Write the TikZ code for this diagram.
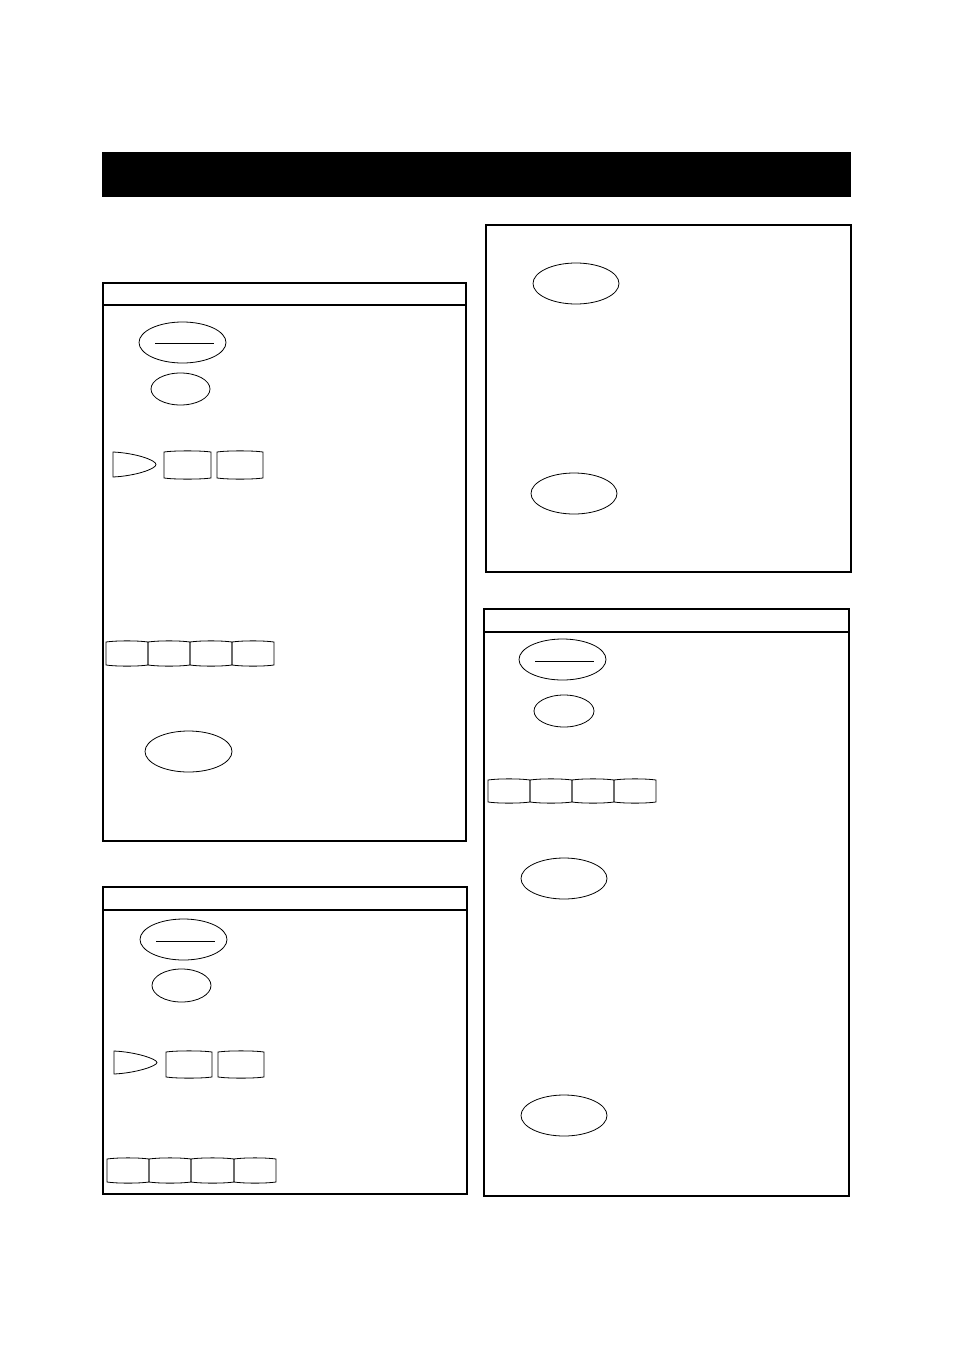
\documentclass[tikz,border=0pt]{standalone}
\begin{document}
\begin{tikzpicture}[x=1pt,y=-1pt,
  frame/.style={draw=black,line width=1.2pt},
  shp/.style={draw=black,line width=0.8pt},
  thick frame/.style={draw=black,line width=2pt}]
\useasboundingbox (0,0) rectangle (954,1351);
\newcommand\kbox[4]{\draw[shp] (#1,#2) .. controls ({#1+10},{#2-1.5}) and ({#3-10},{#2-1.5}) .. (#3,#2) -- (#3,#4) .. controls ({#3-10},{#4+1.5}) and ({#1+10},{#4+1.5}) .. (#1,#4) -- cycle;}
\newcommand\dshape[3]{\draw[shp] (#1,#2) .. controls ({#1+22},{#2+1}) and ({#1+43},{#2+8}) .. ({#1+43},{(#2+#3)/2}) .. controls ({#1+43},{#3-8}) and ({#1+22},{#3-1}) .. (#1,#3) -- cycle;}
% title bar
\fill[black] (102,152) rectangle (851,197);
% Panel A
\draw[frame] (103,283) rectangle (466,841);
\draw[thick frame] (103,283) -- (103,841);
\draw[frame] (103,305) -- (466,305);
\draw[shp] (182.5,342.5) ellipse [x radius=43.5, y radius=20.5];
\draw[shp] (155,343) -- (214,343);
\draw[shp] (180.5,389) ellipse [x radius=29.5, y radius=16];
\dshape{113}{452}{477}
\kbox{164}{452}{211}{478}
\kbox{217}{452}{263}{478}
\kbox{106}{642}{148}{665}
\kbox{148}{642}{190}{665}
\kbox{190}{642}{232}{665}
\kbox{232}{642}{274}{665}
\draw[shp] (188.5,751.5) ellipse [x radius=43.5, y radius=20.5];
% Panel B
\draw[frame] (103,887) rectangle (467,1194);
\draw[thick frame] (103,910) -- (467,910);
\draw[shp] (183.5,939.5) ellipse [x radius=43.5, y radius=20.5];
\draw[shp] (156,941) -- (215,941);
\draw[shp] (181.5,985.5) ellipse [x radius=29.5, y radius=16.5];
\dshape{114}{1051}{1074}
\kbox{166}{1052}{212}{1077}
\kbox{218}{1052}{264}{1077}
\kbox{107}{1159}{149}{1182}
\kbox{149}{1159}{191}{1182}
\kbox{191}{1159}{234}{1182}
\kbox{234}{1159}{276}{1182}
% Panel C
\draw[frame] (486,225) rectangle (851,572);
\draw[thick frame] (486,225) -- (486,572);
\draw[shp] (576,283.5) ellipse [x radius=43, y radius=20.5];
\draw[shp] (574,493.5) ellipse [x radius=43, y radius=20.5];
% Panel D
\draw[frame] (484,609) rectangle (849,1196);
\draw[thick frame] (849,609) -- (849,1196);
\draw[frame] (484,632) -- (849,632);
\draw[shp] (562.5,659.5) ellipse [x radius=43.5, y radius=20.5];
\draw[shp] (535,661) -- (594,661);
\draw[shp] (564,711) ellipse [x radius=30, y radius=16];
\kbox{488}{780}{530}{802}
\kbox{530}{780}{572}{802}
\kbox{572}{780}{614}{802}
\kbox{614}{780}{656}{802}
\draw[shp] (564,878.5) ellipse [x radius=43, y radius=20.5];
\draw[shp] (564,1115.5) ellipse [x radius=43, y radius=20.5];
\end{tikzpicture}
\end{document}
